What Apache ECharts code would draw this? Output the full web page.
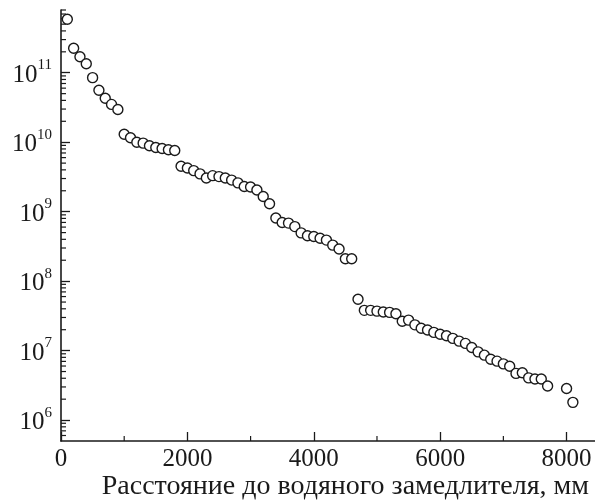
<!DOCTYPE html>
<html>
<head>
<meta charset="utf-8">
<script src="https://cdn.jsdelivr.net/npm/echarts@6/dist/echarts.min.js"></script>
<style>
html,body{margin:0;padding:0;background:#fff;}
#chart{width:595px;height:504px;}
</style>
</head>
<body>
<div id="chart"></div>
<script>
// Distance to water moderator, mm
const distances = [
  100, 200, 300, 400, 500, 600, 700, 800, 900,
  1000, 1100, 1200, 1300, 1400, 1500, 1600, 1700, 1800,
  1900, 2000, 2100, 2200, 2300, 2400, 2500, 2600, 2700, 2800, 2900, 3000, 3100, 3200, 3300,
  3400, 3500, 3600, 3700, 3800, 3900, 4000, 4100, 4200, 4300, 4400, 4500, 4600,
  4700, 4800, 4900, 5000, 5100, 5200, 5300, 5400, 5500, 5600, 5700, 5800, 5900, 6000,
  6100, 6200, 6300, 6400, 6500, 6600, 6700, 6800, 6900, 7000, 7100, 7200, 7300, 7400,
  7500, 7600, 7700, 8000, 8100
];
const values = [
  5.9e11, 2.25e11, 1.7e11, 1.35e11, 8.5e10, 5.6e10, 4.3e10, 3.5e10, 2.95e10,
  1.3e10, 1.16e10, 1.0e10, 9.7e9, 8.9e9, 8.4e9, 8.1e9, 7.8e9, 7.6e9,
  4.5e9, 4.25e9, 3.9e9, 3.5e9, 3.05e9, 3.3e9, 3.2e9, 3.05e9, 2.85e9, 2.6e9, 2.3e9, 2.27e9, 2.05e9, 1.65e9, 1.3e9,
  8.1e8, 7.0e8, 6.85e8, 6.1e8, 4.95e8, 4.5e8, 4.4e8, 4.15e8, 3.9e8, 3.3e8, 2.9e8, 2.1e8, 2.1e8,
  5.5e7, 3.8e7, 3.8e7, 3.7e7, 3.6e7, 3.55e7, 3.4e7, 2.65e7, 2.75e7, 2.35e7, 2.1e7, 1.98e7, 1.83e7, 1.72e7,
  1.64e7, 1.5e7, 1.37e7, 1.27e7, 1.11e7, 9.6e6, 8.6e6, 7.5e6, 7.05e6, 6.45e6, 5.95e6, 4.7e6, 4.8e6, 4.05e6,
  3.9e6, 3.9e6, 3.1e6, 2.85e6, 1.8e6
];
const xMajorTicks = [0, 2000, 4000, 6000, 8000];
const xMinorTicks = [1000, 3000, 5000, 7000];
const yMajorTicks = [1e6, 1e7, 1e8, 1e9, 1e10, 1e11];
const yMinorTicks = [
  6e5, 7e5, 8e5, 9e5,
  2e6, 3e6, 4e6, 5e6, 6e6, 7e6, 8e6, 9e6,
  2e7, 3e7, 4e7, 5e7, 6e7, 7e7, 8e7, 9e7,
  2e8, 3e8, 4e8, 5e8, 6e8, 7e8, 8e8, 9e8,
  2e9, 3e9, 4e9, 5e9, 6e9, 7e9, 8e9, 9e9,
  2e10, 3e10, 4e10, 5e10, 6e10, 7e10, 8e10, 9e10,
  2e11, 3e11, 4e11, 5e11, 6e11, 7e11, 8e11
];
const xTitle = 'Расстояние до водяного замедлителя, мм';

const points = distances.map((d, i) => [d, values[i]]);
const FONT = '"Liberation Serif", "DejaVu Serif", serif';
const INK = '#1a1a1a';
const X_MIN = 0, X_MAX = 8450, Y_MIN = 5e5, Y_MAX = 8e11;
const MINOR_LEN = 5;

// minor ticks: [x, y, orientation] (0 = on y axis, 1 = on x axis)
const minorTickData = yMinorTicks.map(v => [X_MIN, v, 0])
  .concat(xMinorTicks.map(v => [v, Y_MIN, 1]));

function renderMinorTick(params, api) {
  const p = api.coord([api.value(0), api.value(1)]);
  const vertical = api.value(2) === 1;
  return {
    type: 'line',
    shape: vertical
      ? {x1: p[0], y1: p[1], x2: p[0], y2: p[1] - MINOR_LEN}
      : {x1: p[0], y1: p[1], x2: p[0] + MINOR_LEN, y2: p[1]},
    style: {stroke: INK, lineWidth: 1.2}
  };
}

const chart = echarts.init(document.getElementById('chart'), null, {renderer: 'canvas'});
chart.setOption({
  animation: false,
  backgroundColor: '#fff',
  grid: {left: 61, right: 0, top: 10, bottom: 63, containLabel: false},
  xAxis: {
    type: 'value', min: X_MIN, max: X_MAX, interval: 2000,
    axisLine: {show: true, lineStyle: {color: INK, width: 1.6}},
    axisTick: {show: true, inside: true, length: 9, customValues: xMajorTicks, lineStyle: {color: INK, width: 1.3}},
    axisLabel: {show: true, customValues: xMajorTicks, margin: 6, fontFamily: FONT, fontSize: 25, color: INK,
      formatter: v => String(v)},
    splitLine: {show: false}
  },
  yAxis: {
    type: 'log', logBase: 10, min: Y_MIN, max: Y_MAX,
    axisLine: {show: true, lineStyle: {color: INK, width: 1.6}},
    axisTick: {show: true, inside: true, length: 9, customValues: yMajorTicks, lineStyle: {color: INK, width: 1.3}},
    axisLabel: {
      show: true, customValues: yMajorTicks, margin: 9,
      formatter: v => '{b|10}{s|' + Math.round(Math.log10(v)) + '}',
      rich: {
        b: {fontFamily: FONT, fontSize: 25, lineHeight: 30, color: INK, verticalAlign: 'bottom'},
        s: {fontFamily: FONT, fontSize: 15, lineHeight: 15, color: INK, verticalAlign: 'top'}
      }
    },
    splitLine: {show: false}
  },
  graphic: [{
    type: 'text', right: 6, top: 473,
    style: {text: xTitle, font: '28px ' + FONT, fill: INK}
  }],
  series: [{
    type: 'custom',
    renderItem: renderMinorTick,
    data: minorTickData,
    clip: false,
    silent: true,
    z: 1
  }, {
    type: 'scatter',
    data: points,
    symbol: 'circle', symbolSize: 10,
    itemStyle: {color: '#fff', borderColor: INK, borderWidth: 1.4, opacity: 1},
    z: 3
  }]
});
</script>
</body>
</html>
